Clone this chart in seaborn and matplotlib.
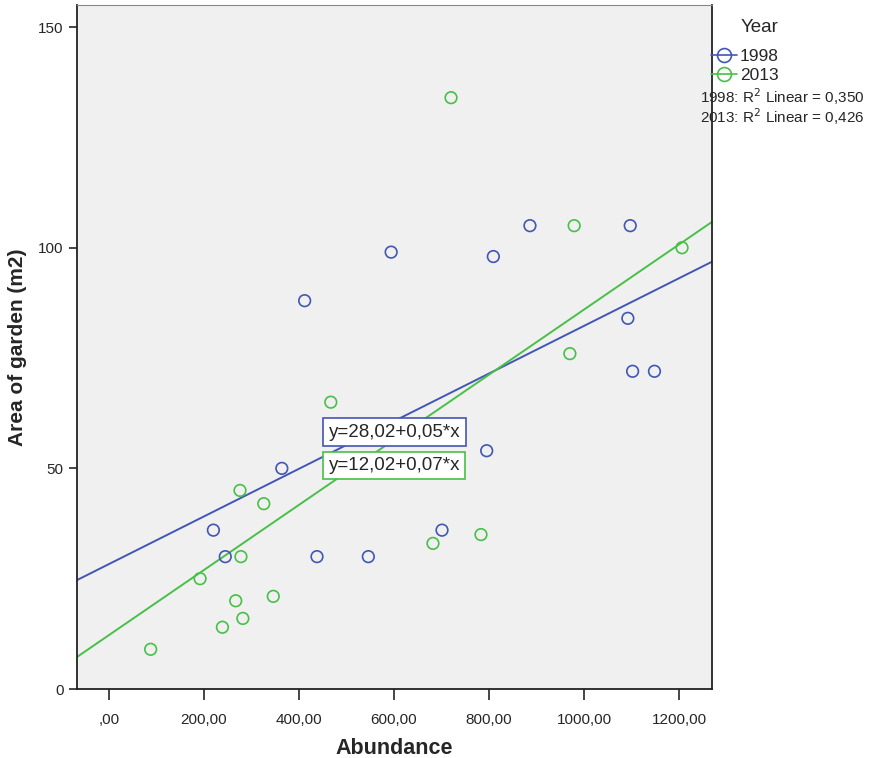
import numpy as np
import pandas as pd
import matplotlib
matplotlib.use("Agg")
import matplotlib.pyplot as plt
from matplotlib.lines import Line2D
import seaborn as sns

# Data
abund_1998 = [220, 245, 364, 412, 438, 546, 594, 701, 795, 809, 886, 1092, 1097, 1102, 1148]
area_1998 = [36, 30, 50, 88, 30, 30, 99, 36, 54, 98, 105, 84, 105, 72, 72]
abund_2013 = [88, 192, 239, 267, 276, 278, 282, 326, 346, 467, 720, 682, 783, 970, 979, 1206]
area_2013 = [9, 25, 14, 20, 45, 30, 16, 42, 21, 65, 134, 33, 35, 76, 105, 100]

years = ["1998", "2013"]
colors = {"1998": "#4256B4", "2013": "#47C047"}
# fit lines as drawn in the chart (intercept, slope)
fit_intercept = {"1998": 28.3, "2013": 12.2}
fit_slope = {"1998": 0.054, "2013": 0.0738}
equations = {"1998": "y=28,02+0,05*x", "2013": "y=12,02+0,07*x"}
r2_labels = ["1998: R$^2$ Linear = 0,350", "2013: R$^2$ Linear = 0,426"]

xticks = [0, 200, 400, 600, 800, 1000, 1200]
xtick_labels = [",00", "200,00", "400,00", "600,00", "800,00", "1000,00", "1200,00"]
yticks = [0, 50, 100, 150]
xlim = (-67, 1269)
ylim = (0, 155)

df = pd.concat([
    pd.DataFrame({"Abundance": abund_1998, "Area": area_1998, "Year": "1998"}),
    pd.DataFrame({"Abundance": abund_2013, "Area": area_2013, "Year": "2013"}),
])

sns.set_style("ticks", {"axes.facecolor": "#F0F0F0"})
plt.rcParams["font.family"] = ["Liberation Sans", "DejaVu Sans"]

fig = plt.figure(figsize=(8.94, 7.58), dpi=100)
ax = fig.add_axes([0.0861, 0.091, 0.7103, 0.9024])

for yr in years:
    sub = df[df["Year"] == yr]
    sns.regplot(data=sub, x="Abundance", y="Area", ax=ax, fit_reg=False,
                color=colors[yr],
                scatter_kws=dict(facecolors="none", s=70, linewidths=1.2, alpha=1, zorder=3))
    xs = np.array(xlim, dtype=float)
    sns.lineplot(x=xs, y=fit_intercept[yr] + fit_slope[yr] * xs, ax=ax,
                 color=colors[yr], lw=1.4, zorder=2)

ax.set_xlim(*xlim)
ax.set_ylim(*ylim)

# equation labels
ax.text(601, 58.2, equations["1998"], ha="center", va="center", fontsize=13.5, zorder=5,
        bbox=dict(boxstyle="square,pad=0.28", fc="white", ec=colors["1998"], lw=1.2))
ax.text(601, 50.6, equations["2013"], ha="center", va="center", fontsize=13.5, zorder=5,
        bbox=dict(boxstyle="square,pad=0.28", fc="white", ec=colors["2013"], lw=1.2))

ax.set_xticks(xticks)
ax.set_xticklabels(xtick_labels)
ax.set_yticks(yticks)
ax.tick_params(axis="x", length=8, width=1.2, labelsize=11, pad=9)
ax.tick_params(axis="y", length=6, width=1.2, labelsize=11)
ax.set_xlabel("Abundance", fontsize=15.5, fontweight="bold", labelpad=8)
ax.set_ylabel("Area of garden (m2)", fontsize=15, fontweight="bold", labelpad=8)

for side in ["left", "bottom", "right", "top"]:
    ax.spines[side].set_visible(True)
    ax.spines[side].set_linewidth(1.3)
    ax.spines[side].set_color("#222222")
ax.spines["top"].set_color("#888888")
ax.spines["top"].set_linewidth(0.8)

handles = [Line2D([0], [0], color=colors[yr], lw=1.2, marker="o", markersize=10,
                  markerfacecolor="none", markeredgewidth=1.2) for yr in years]
leg = fig.legend(handles, years, title="Year", loc="upper left",
                 bbox_to_anchor=(0.778, 0.995), frameon=False, fontsize=12.5,
                 title_fontsize=13.5, handlelength=1.5, handletextpad=0.15,
                 labelspacing=0.2)
leg._legend_box.align = "right"
leg._legend_box.sep = 9

fig.text(0.783, 0.872, r2_labels[0], fontsize=11, va="center")
fig.text(0.783, 0.846, r2_labels[1], fontsize=11, va="center")

fig.savefig("out.png", dpi=100, facecolor="white")
